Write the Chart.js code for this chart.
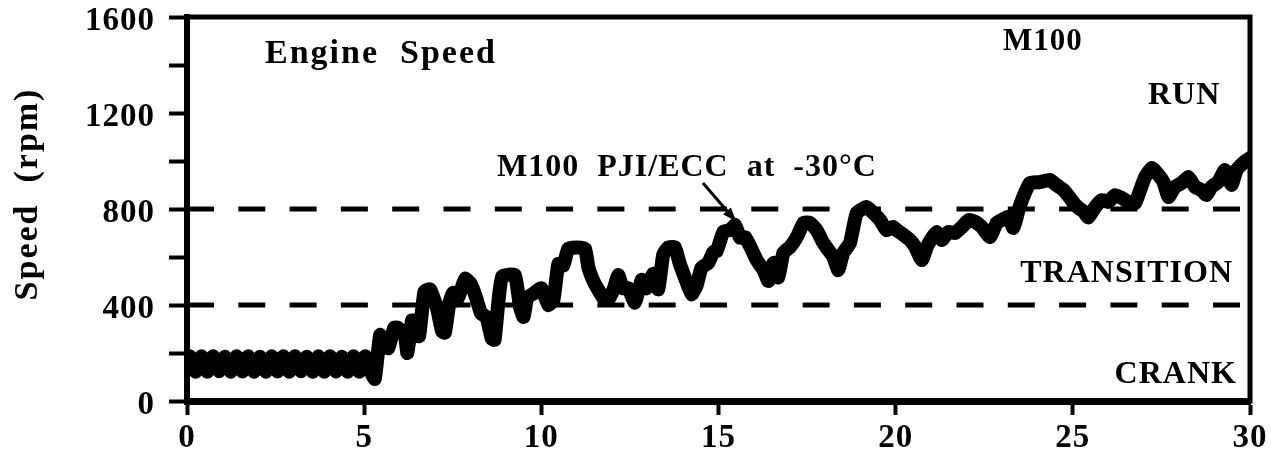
<!DOCTYPE html>
<html>
<head>
<meta charset="utf-8">
<script src="https://cdn.jsdelivr.net/npm/chart.js@4/dist/chart.umd.min.js"></script>
<style>
	html, body { margin: 0; padding: 0; background: #fff; }
</style>
</head>
<body>
<canvas id="chart" width="1271" height="456"></canvas>
<script>
// engine speed trace (time s, speed rpm)
const timeSec = [
	0, 0.08, 0.245, 0.41, 0.575, 0.74, 0.905, 1.07, 1.235, 1.4, 1.565, 1.73, 1.895, 2.06, 2.225, 2.39,
	2.555, 2.72, 2.885, 3.05, 3.215, 3.38, 3.545, 3.71, 3.875, 4.04, 4.205, 4.37, 4.535, 4.7, 4.865, 5.03,
	5.195, 5.3, 5.45, 5.55, 5.68, 5.85, 5.95, 6.05, 6.15, 6.22, 6.35, 6.45, 6.55, 6.7, 6.86, 7.05,
	7.2, 7.28, 7.4, 7.5, 7.62, 7.75, 7.85, 8.0, 8.15, 8.3, 8.45, 8.6, 8.68, 8.8, 8.9, 9.25,
	9.4, 9.5, 9.6, 9.8, 10.0, 10.2, 10.34, 10.48, 10.62, 10.76, 11.0, 11.23, 11.33, 11.47, 11.6, 11.75,
	11.9, 12.05, 12.17, 12.3, 12.45, 12.64, 12.83, 12.97, 13.16, 13.3, 13.44, 13.58, 13.77, 13.9, 14.05, 14.24,
	14.38, 14.52, 14.71, 14.85, 14.95, 15.14, 15.33, 15.47, 15.61, 15.75, 15.9, 16.08, 16.27, 16.41, 16.55, 16.69,
	16.83, 17.02, 17.21, 17.4, 17.58, 17.77, 17.96, 18.1, 18.24, 18.38, 18.52, 18.71, 18.9, 19.18, 19.37, 19.56,
	19.74, 19.93, 20.03, 20.22, 20.4, 20.55, 20.74, 20.88, 21.02, 21.16, 21.3, 21.49, 21.68, 21.87, 22.06, 22.25,
	22.43, 22.66, 22.85, 22.99, 23.18, 23.32, 23.47, 23.6, 23.79, 24.07, 24.35, 24.54, 24.73, 24.9, 25.05, 25.2,
	25.3, 25.44, 25.63, 25.82, 26.0, 26.19, 26.38, 26.57, 26.76, 26.9, 27.04, 27.23, 27.42, 27.56, 27.7, 27.88,
	28.07, 28.26, 28.45, 28.63, 28.77, 28.91, 29.1, 29.29, 29.48, 29.62, 29.81, 30.0
];
const speedRpm = [
	150, 186, 122, 186, 122, 186, 124, 184, 122, 186, 123, 186, 122, 184, 122, 186,
	123, 186, 122, 186, 124, 184, 122, 186, 122, 186, 123, 184, 122, 186, 122, 186,
	120, 92, 275, 240, 220, 305, 305, 290, 275, 200, 335, 330, 270, 455, 465, 390,
	290, 285, 405, 450, 420, 470, 510, 490, 435, 365, 350, 260, 255, 430, 520, 525,
	390, 350, 430, 450, 470, 400, 420, 570, 565, 635, 640, 635, 555, 500, 465, 430,
	425, 470, 525, 470, 470, 410, 505, 470, 530, 465, 610, 640, 640, 575, 515, 445,
	480, 555, 575, 620, 625, 705, 712, 733, 680, 683, 642, 587, 546, 500, 575, 515,
	617, 642, 683, 742, 742, 712, 658, 629, 600, 546, 617, 658, 783, 808, 783, 754,
	712, 725, 712, 692, 671, 642, 587, 642, 679, 704, 671, 704, 700, 725, 754, 746,
	725, 683, 742, 754, 767, 721, 796, 850, 908, 912, 921, 900, 880, 850, 820, 800,
	790, 765, 808, 837, 829, 858, 846, 829, 825, 879, 933, 971, 942, 912, 850, 892,
	908, 933, 892, 879, 858, 892, 912, 962, 900, 962, 992, 1012
];

// regime boundaries (dashed)
const boundaryRpm = [400, 800];
const xRange = [0, 30];
const yRange = [0, 1600];

const notes = [
	{ text: 'Engine  Speed', x: 2.2, y: 1446, align: 'left', size: 34, spacing: 2 },
	{ text: 'M100', x: 23.03, y: 1496, align: 'left', size: 31, spacing: 1 },
	{ text: 'RUN', x: 29.16, y: 1271, align: 'right', size: 32, spacing: 1 },
	{ text: 'M100  PJI/ECC  at  -30°C', x: 8.75, y: 970, align: 'left', size: 32, spacing: 1 },
	{ text: 'TRANSITION', x: 29.52, y: 529, align: 'right', size: 32, spacing: 1 },
	{ text: 'CRANK', x: 29.63, y: 108, align: 'right', size: 32, spacing: 1 },
];
const arrow = { from: [14.56, 908], to: [15.5, 748] };
const yTitle = 'Speed  (rpm)';

const trace = timeSec.map((t, i) => ({ x: t, y: speedRpm[i] }));
const dashed = boundaryRpm.map((v) => ({
	data: [{ x: xRange[0], y: v }, { x: xRange[1], y: v }],
	borderColor: '#000',
	borderWidth: 5,
	borderDash: [27, 24.3],
	pointRadius: 0,
}));

Chart.defaults.font.family = "'Liberation Serif', 'Times New Roman', serif";
Chart.defaults.font.weight = 'bold';
Chart.defaults.font.size = 33;
Chart.defaults.color = '#000';

function zeroPad(scale) {
	scale.paddingTop = 0;
	scale.paddingBottom = 0;
	scale.paddingLeft = 0;
	scale.paddingRight = 0;
}

const extras = {
	id: 'extras',
	beforeDraw(chart) {
		chart.ctx.letterSpacing = '1px';
	},
	afterDatasetsDraw(chart) {
		const { ctx, chartArea: a, scales } = chart;
		const sx = scales.x;
		const sy = scales.y;
		ctx.save();
		// frame on top and right
		ctx.strokeStyle = '#000';
		ctx.lineWidth = 5;
		ctx.lineCap = 'square';
		ctx.beginPath();
		ctx.moveTo(a.left, a.top);
		ctx.lineTo(a.right, a.top);
		ctx.lineTo(a.right, a.bottom);
		ctx.stroke();

		// arrow to the trace
		const x1 = sx.getPixelForValue(arrow.from[0]);
		const y1 = sy.getPixelForValue(arrow.from[1]);
		const x2 = sx.getPixelForValue(arrow.to[0]);
		const y2 = sy.getPixelForValue(arrow.to[1]);
		const ang = Math.atan2(y2 - y1, x2 - x1);
		ctx.lineWidth = 3;
		ctx.lineCap = 'butt';
		ctx.beginPath();
		ctx.moveTo(x1, y1);
		ctx.lineTo(x2, y2);
		ctx.stroke();
		ctx.beginPath();
		ctx.moveTo(x2, y2);
		ctx.lineTo(x2 - 15 * Math.cos(ang - 0.35), y2 - 15 * Math.sin(ang - 0.35));
		ctx.lineTo(x2 - 15 * Math.cos(ang + 0.35), y2 - 15 * Math.sin(ang + 0.35));
		ctx.closePath();
		ctx.fillStyle = '#000';
		ctx.fill();

		// text labels
		ctx.textBaseline = 'middle';
		notes.forEach((n) => {
			ctx.font = `bold ${n.size}px 'Liberation Serif', serif`;
			ctx.letterSpacing = n.spacing + 'px';
			ctx.textAlign = n.align;
			ctx.fillText(n.text, sx.getPixelForValue(n.x), sy.getPixelForValue(n.y));
		});

		// y axis title
		ctx.font = "bold 34px 'Liberation Serif', serif";
		ctx.letterSpacing = '2px';
		ctx.textAlign = 'center';
		ctx.translate(28, 194);
		ctx.rotate(-Math.PI / 2);
		ctx.fillText(yTitle, 0, 0);
		ctx.restore();
	},
};

new Chart(document.getElementById('chart'), {
	type: 'line',
	data: {
		datasets: [
			{
				data: trace,
				borderColor: '#000',
				borderWidth: 14,
				borderJoinStyle: 'round',
				borderCapStyle: 'round',
				tension: 0.15,
				pointRadius: 0,
			},
			...dashed,
		],
	},
	options: {
		responsive: false,
		animation: false,
		devicePixelRatio: 1,
		layout: { padding: { top: 17, right: 21, left: 0, bottom: 0 } },
		plugins: { legend: { display: false }, tooltip: { enabled: false } },
		scales: {
			x: {
				type: 'linear',
				min: xRange[0],
				max: xRange[1],
				afterFit(scale) {
					scale.height = 55;
					zeroPad(scale);
				},
				border: { color: '#000', width: 7 },
				grid: { drawOnChartArea: false, tickLength: 14, tickWidth: 4, tickColor: '#000' },
				ticks: { stepSize: 5, padding: 4, maxRotation: 0, font: { size: 33 } },
			},
			y: {
				min: yRange[0],
				max: yRange[1],
				afterFit(scale) {
					scale.width = 187;
					zeroPad(scale);
				},
				border: { color: '#000', width: 6 },
				grid: { drawOnChartArea: false, tickLength: 18, tickWidth: 4, tickColor: '#000' },
				ticks: {
					stepSize: 200,
					padding: 14,
					labelOffset: 4,
					font: { size: 33 },
					callback: (v) => (v % 400 === 0 ? v : ''),
				},
			},
		},
	},
	plugins: [extras],
});
</script>
</body>
</html>
